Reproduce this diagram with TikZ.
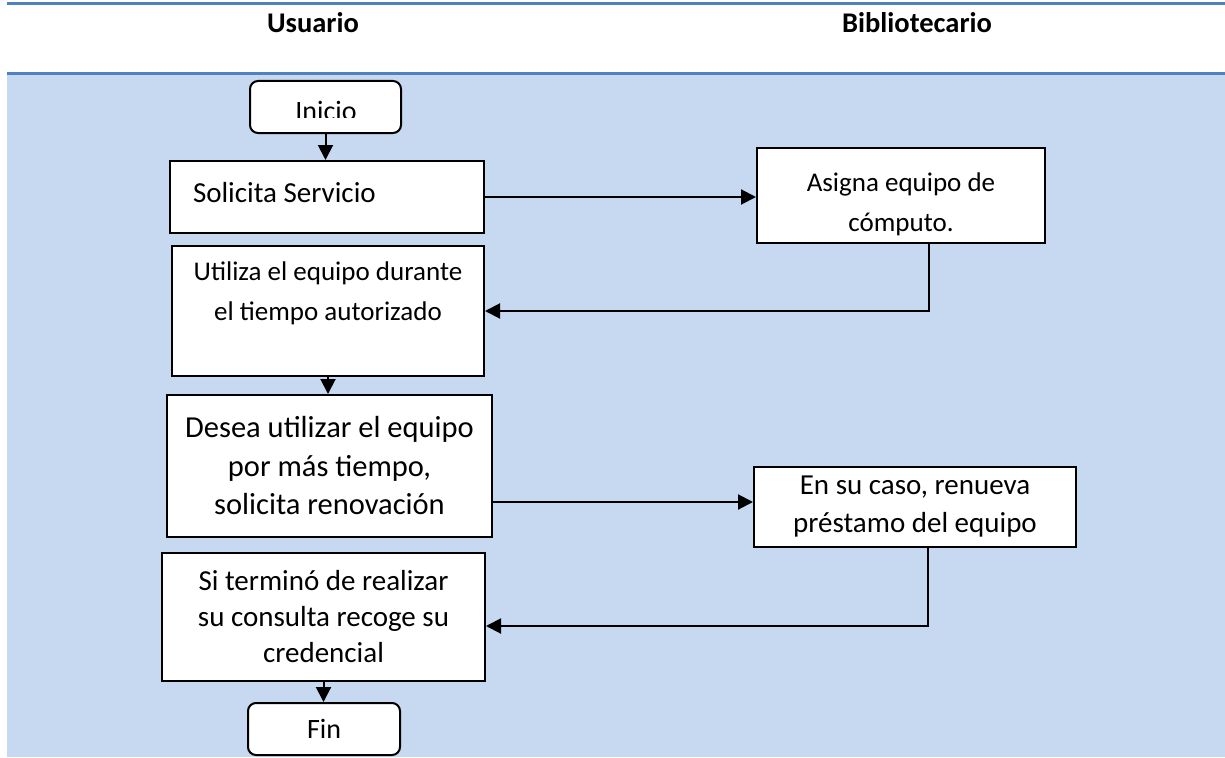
\documentclass[tikz,border=0pt]{standalone}
\usepackage{fontspec}
\setmainfont{Carlito}
\usetikzlibrary{arrows.meta}
\definecolor{azulLinea}{RGB}{79,129,189}
\definecolor{azulFondo}{RGB}{198,217,240}

\begin{document}
\begin{tikzpicture}[x=1pt,y=-1pt,
  caja/.style={draw, line width=2pt, fill=white, align=center, inner sep=0pt,
    font=\fontsize{29}{38}\selectfont},
  terminal/.style={caja, rounded corners=8pt, minimum width=151pt, minimum height=52pt,
    font=\fontsize{28}{38}\selectfont},
  flecha/.style={line width=2pt, -{Triangle[length=15pt,width=15pt]}},
  titulo/.style={font=\bfseries\fontsize{28.5}{32}\selectfont, anchor=base},
  franja/.style={azulLinea, line width=3pt}]
  \useasboundingbox (0,0) rectangle (1225,757);
  % fondo y encabezado
  \fill[azulFondo] (7,75) rectangle (1225,757);
  \draw[franja] (7,4) -- (1225,4);
  \draw[franja] (7,74) -- (1225,74);
  \node[titulo] (usuario) at (313,33) {Usuario};
  \node[titulo] (biblio) at (917,33) {Bibliotecario};
  % cajas
  \node[terminal] (inicio) at (325.5,107) {};
  \begin{scope}
    \clip (250,81) rectangle (401,118);
    \node[font=\fontsize{28}{38}\selectfont, anchor=base, inner sep=0pt] (inicioTxt) at (326,121) {Inicio};
  \end{scope}
  \node[caja, minimum width=314pt, minimum height=72pt] (solicita) at (327,197) {\raisebox{9pt}{\makebox[268pt][l]{Solicita Servicio}}};
  \node[caja, minimum width=288pt, minimum height=95pt, font=\fontsize{27}{40}\selectfont] (asigna) at (901,195.5) {\rule{0pt}{36pt}Asigna equipo de\\cómputo.};
  \node[caja, minimum width=312pt, minimum height=130pt, font=\fontsize{27}{40}\selectfont] (utiliza) at (328,311) {Utiliza el equipo durante\\el tiempo autorizado\\\mbox{}};
  \node[caja, minimum width=325pt, minimum height=142pt, font=\fontsize{30.5}{38.5}\selectfont] (desea) at (329.5,466) {Desea utilizar el equipo\\por más tiempo,\\solicita renovación};
  \node[caja, minimum width=322pt, minimum height=80pt] (en) at (915,507) {En su caso, renueva\\préstamo del equipo};
  \node[caja, minimum width=323pt, minimum height=128pt, font=\fontsize{29}{36}\selectfont] (siterm) at (323.5,617) {Si terminó de realizar\\su consulta recoge su\\credencial};
  \node[terminal, minimum width=152pt] (fin) at (324,729) {Fin};
  % conectores
  \draw[flecha] (inicio.south) -- (inicio.south |- solicita.north);
  \draw[flecha] (solicita.east) -- (solicita.east -| asigna.west);
  \draw[flecha] ([xshift=28pt]asigna.south) |- (utiliza.east);
  \draw[flecha] (utiliza.south) -- (utiliza.south |- desea.north);
  \draw[flecha] ([yshift=5pt]en.west -| desea.east) -- ([yshift=5pt]en.west);
  \draw[flecha] ([xshift=13pt]en.south) |- ([yshift=-9pt]siterm.east);
  \draw[flecha] (siterm.south) -- (siterm.south |- fin.north);
\end{tikzpicture}
\end{document}
